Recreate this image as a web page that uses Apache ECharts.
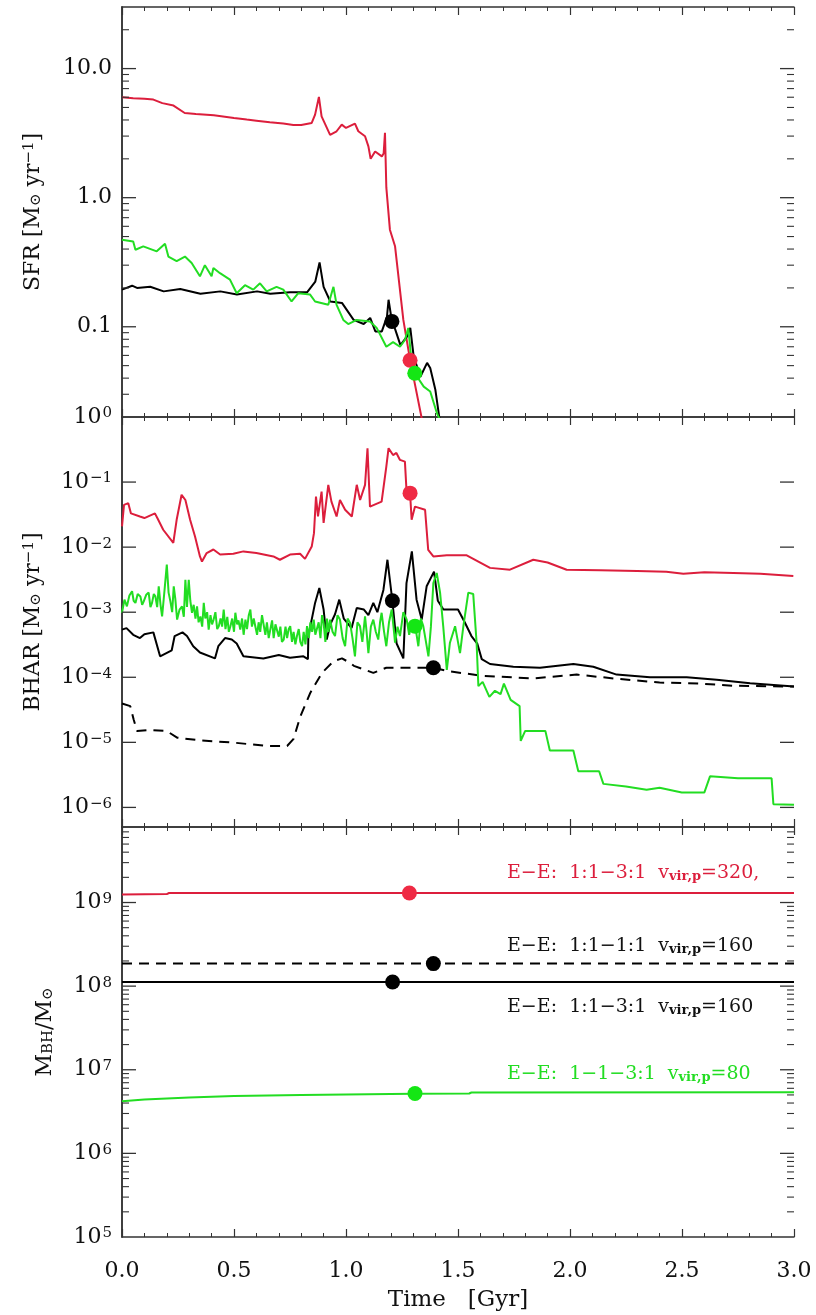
<!DOCTYPE html>
<html>
<head>
<meta charset="utf-8">
<script src="https://cdn.jsdelivr.net/npm/echarts@6/dist/echarts.min.js"></script>
<style>
html,body{margin:0;padding:0;background:#fff;}
#chart{width:816px;height:1315px;}
</style>
</head>
<body>
<div id="chart"></div>
<script>
// ---------------- DATA ----------------
// Panel 1: star formation rate [Msun/yr] vs time [Gyr]
const sfrRedT = [0, 0.05, 0.1, 0.14, 0.18, 0.23, 0.28, 0.33, 0.41, 0.5, 0.557, 0.6, 0.66, 0.72, 0.765, 0.8, 0.847, 0.862, 0.879, 0.891, 0.929, 0.958, 0.981, 1.0, 1.04, 1.055, 1.085, 1.10, 1.11, 1.13, 1.16, 1.168, 1.174, 1.18, 1.196, 1.219, 1.256, 1.286, 1.345];
const sfrRedV = [6.0, 5.9, 5.85, 5.75, 5.4, 5.17, 4.53, 4.45, 4.35, 4.15, 4.03, 3.95, 3.84, 3.75, 3.66, 3.65, 3.79, 4.4, 6.03, 4.26, 3.07, 3.27, 3.68, 3.47, 3.75, 3.27, 2.99, 2.5, 2.0, 2.28, 2.09, 2.2, 3.18, 1.2, 0.565, 0.42, 0.113, 0.0554, 0.017];

const sfrBlackT = [0, 0.045, 0.067, 0.126, 0.186, 0.26, 0.35, 0.439, 0.513, 0.603, 0.662, 0.75, 0.826, 0.863, 0.882, 0.9, 0.93, 0.982, 1.034, 1.079, 1.108, 1.131, 1.16, 1.183, 1.19, 1.205, 1.22, 1.243, 1.272, 1.287, 1.302, 1.332, 1.362, 1.376, 1.399, 1.42];
const sfrBlackV = [0.194, 0.208, 0.200, 0.204, 0.188, 0.196, 0.18, 0.188, 0.178, 0.188, 0.18, 0.185, 0.185, 0.224, 0.315, 0.204, 0.157, 0.153, 0.113, 0.105, 0.117, 0.092, 0.092, 0.12, 0.162, 0.11, 0.095, 0.072, 0.084, 0.098, 0.059, 0.041, 0.0525, 0.048, 0.0325, 0.018];

const sfrGreenT = [0, 0.05, 0.06, 0.095, 0.155, 0.192, 0.207, 0.244, 0.281, 0.311, 0.348, 0.37, 0.4, 0.408, 0.4375, 0.482, 0.512, 0.549, 0.586, 0.616, 0.646, 0.69, 0.72, 0.757, 0.787, 0.839, 0.862, 0.921, 0.944, 0.958, 0.988, 1.01, 1.048, 1.107, 1.137, 1.18, 1.21, 1.241, 1.263, 1.278, 1.29, 1.307, 1.347, 1.376, 1.406, 1.425];
const sfrGreenV = [0.472, 0.458, 0.395, 0.42, 0.384, 0.44, 0.35, 0.323, 0.35, 0.312, 0.246, 0.30, 0.246, 0.285, 0.26, 0.232, 0.182, 0.21, 0.194, 0.217, 0.188, 0.204, 0.194, 0.157, 0.182, 0.178, 0.157, 0.148, 0.204, 0.148, 0.113, 0.105, 0.113, 0.11, 0.098, 0.070, 0.076, 0.070, 0.079, 0.098, 0.06, 0.0437, 0.0344, 0.0315, 0.0214, 0.018];

// Panel 2: black hole accretion rate [Msun/yr]
const bharRedT = [0, 0.009, 0.028, 0.04, 0.08, 0.1, 0.147, 0.16, 0.184, 0.229, 0.244, 0.266, 0.283, 0.304, 0.326, 0.348, 0.357, 0.378, 0.408, 0.438, 0.497, 0.542, 0.6, 0.676, 0.705, 0.75, 0.795, 0.817, 0.847, 0.857, 0.866, 0.875, 0.891, 0.9, 0.921, 0.935, 0.958, 0.973, 0.996, 1.026, 1.048, 1.063, 1.085, 1.096, 1.107, 1.159, 1.18, 1.19, 1.21, 1.225, 1.241, 1.263, 1.27, 1.286, 1.293, 1.308, 1.353, 1.367, 1.39, 1.45, 1.539, 1.643, 1.732, 1.836, 1.9, 1.985, 2.134, 2.3, 2.43, 2.506, 2.6, 2.73, 2.85, 2.997];
const bharRedV = [0.0208, 0.0447, 0.0474, 0.033, 0.0295, 0.028, 0.033, 0.027, 0.0185, 0.0116, 0.0263, 0.0637, 0.053, 0.0263, 0.0146, 0.0072, 0.006, 0.0081, 0.0092, 0.0077, 0.0079, 0.0086, 0.0081, 0.0072, 0.0064, 0.0077, 0.0079, 0.0066, 0.0102, 0.0164, 0.06, 0.0296, 0.0714, 0.0235, 0.0907, 0.05, 0.0296, 0.053, 0.0375, 0.0296, 0.0907, 0.053, 0.0907, 0.331, 0.042, 0.05, 0.173, 0.331, 0.26, 0.28, 0.219, 0.206, 0.0758, 0.0676, 0.0263, 0.042, 0.0375, 0.0091, 0.0072, 0.0075, 0.0075, 0.0048, 0.0045, 0.0064, 0.0058, 0.0045, 0.0044, 0.0043, 0.0042, 0.0039, 0.0041, 0.004, 0.0039, 0.0036];

const bharBlackT = [0, 0.02, 0.05, 0.08, 0.1, 0.14, 0.17, 0.222, 0.235, 0.27, 0.29, 0.318, 0.348, 0.415, 0.43, 0.46, 0.49, 0.512, 0.542, 0.631, 0.7, 0.75, 0.81, 0.83, 0.832, 0.862, 0.881, 0.9, 0.914, 0.93, 0.951, 0.97, 0.99, 1.025, 1.048, 1.08, 1.1, 1.122, 1.14, 1.167, 1.185, 1.207, 1.226, 1.256, 1.27, 1.294, 1.315, 1.338, 1.36, 1.393, 1.41, 1.435, 1.5, 1.53, 1.56, 1.586, 1.606, 1.643, 1.747, 1.866, 2.015, 2.104, 2.208, 2.357, 2.521, 2.655, 2.804, 3.0];
const bharBlackV = [5.4e-4, 5.7e-4, 4.5e-4, 4.0e-4, 4.6e-4, 4.9e-4, 2.1e-4, 2.6e-4, 4.3e-4, 4.9e-4, 4.3e-4, 3.0e-4, 2.4e-4, 1.95e-4, 3.0e-4, 4.0e-4, 3.8e-4, 3.3e-4, 2.1e-4, 1.95e-4, 2.2e-4, 2.0e-4, 2.1e-4, 1.9e-4, 4.3e-4, 1.39e-3, 2.36e-3, 1.1e-3, 3.8e-4, 6.5e-4, 9.3e-4, 1.56e-3, 8e-4, 5.7e-4, 1.16e-3, 1.1e-3, 9e-4, 1.39e-3, 1.0e-3, 2.2e-3, 6.4e-3, 1.5e-3, 3.3e-4, 1.95e-4, 2.8e-3, 8.6e-3, 1.56e-3, 7.7e-4, 2.5e-3, 4.2e-3, 1.5e-3, 1.1e-3, 1.1e-3, 7e-4, 4.3e-4, 3.3e-4, 1.9e-4, 1.6e-4, 1.45e-4, 1.4e-4, 1.6e-4, 1.45e-4, 1.1e-4, 1.0e-4, 1.0e-4, 9.2e-5, 8.1e-5, 7.2e-5];

const bharDashT = [0, 0.037, 0.052, 0.067, 0.126, 0.2, 0.246, 0.35, 0.499, 0.647, 0.737, 0.766, 0.796, 0.841, 0.893, 0.945, 0.982, 1.019, 1.035, 1.122, 1.18, 1.3, 1.39, 1.464, 1.613, 1.836, 2.03, 2.208, 2.4, 2.58, 2.73, 3.0];
const bharDashV = [3.96e-5, 3.6e-5, 2.25e-5, 1.49e-5, 1.55e-5, 1.49e-5, 1.18e-5, 1.07e-5, 9.9e-6, 8.8e-6, 8.8e-6, 1.13e-5, 2.5e-5, 5.8e-5, 1.17e-4, 1.77e-4, 1.95e-4, 1.66e-4, 1.5e-4, 1.17e-4, 1.4e-4, 1.4e-4, 1.4e-4, 1.23e-4, 1.05e-4, 9.6e-5, 1.1e-4, 9.5e-5, 8.3e-5, 8.0e-5, 7.4e-5, 7.2e-5];

const bharGreenT = [0, 0.011, 0.022, 0.033, 0.045, 0.052, 0.06, 0.07, 0.082, 0.09, 0.097, 0.108, 0.119, 0.127, 0.134, 0.142, 0.149, 0.157, 0.164, 0.172, 0.179, 0.19, 0.2, 0.208, 0.216, 0.224, 0.231, 0.238, 0.246, 0.257, 0.268, 0.276, 0.283, 0.29, 0.298, 0.305,
  0.3125, 0.32, 0.328, 0.335, 0.342, 0.35, 0.358, 0.365, 0.372, 0.38, 0.387, 0.395, 0.402, 0.409, 0.417, 0.425, 0.432, 0.44, 0.447, 0.454, 0.462, 0.47, 0.477, 0.484, 0.492, 0.5, 0.506, 0.514, 0.52, 0.528, 0.536, 0.543, 0.551, 0.558, 0.566, 0.573, 0.58, 0.588, 0.595, 0.603, 0.61, 0.617, 0.625, 0.632, 0.64, 0.647, 0.655, 0.662, 0.67, 0.677, 0.685, 0.692, 0.7, 0.707, 0.714, 0.722, 0.73, 0.737, 0.744, 0.751, 0.759, 0.766, 0.774, 0.781, 0.789, 0.796, 0.804, 0.811, 0.819, 0.826, 0.834, 0.841, 0.849, 0.856, 0.863, 0.871, 0.878, 0.886, 0.893, 0.9, 0.908, 0.915, 0.922,
  0.929, 0.94, 0.951, 0.962, 0.973, 0.985, 0.996, 1.007, 1.018, 1.029, 1.04, 1.051, 1.0625, 1.073, 1.085, 1.092, 1.1, 1.111, 1.122, 1.133, 1.144, 1.152, 1.159, 1.17, 1.18, 1.192, 1.204, 1.212, 1.219, 1.23, 1.241, 1.256, 1.271, 1.282, 1.293, 1.308, 1.323, 1.334, 1.345, 1.357, 1.368, 1.379,
  1.39, 1.405, 1.42, 1.434, 1.45, 1.464, 1.487, 1.509, 1.524, 1.546, 1.568, 1.583, 1.591, 1.61, 1.64, 1.665, 1.69, 1.705, 1.735, 1.775, 1.78, 1.8, 1.89, 1.91, 1.97, 2.015, 2.037, 2.13, 2.149, 2.25, 2.342, 2.4, 2.499, 2.6, 2.625, 2.75, 2.9, 2.908, 3.0];
const bharGreenV = [9.8e-4, 1.56e-3, 1.23e-3, 1.8e-3, 2.1e-3, 1.5e-3, 1.39e-3, 1.9e-3, 1.75e-3, 1.3e-3, 1.47e-3, 1.85e-3, 2.0e-3, 1.2e-3, 1.39e-3, 1.9e-3, 1.75e-3, 1.2e-3, 2.5e-3, 1.3e-3, 8.6e-4, 2.2e-3, 5.4e-3, 2.0e-3, 1.47e-3, 1.0e-3, 2.5e-3, 1.6e-3, 7.7e-4, 1.1e-3, 1.23e-3, 8.5e-4, 3.15e-3, 1.2e-3, 3.15e-3, 1.5e-3,
  9.8e-4, 1.3e-3, 8e-4, 1.23e-3, 7e-4, 8.6e-4, 6e-4, 1.39e-3, 8e-4, 1.0e-3, 5.4e-4, 9e-4, 6.5e-4, 7.7e-4, 1.0e-3, 5.5e-4, 6.1e-4, 8e-4, 6e-4, 1.1e-3, 5.5e-4, 8.5e-4, 5e-4, 6.1e-4, 8.0e-4, 5e-4, 9.8e-4, 6.5e-4, 7.5e-4, 5.4e-4, 8e-4, 4.5e-4, 7.7e-4, 5.5e-4, 9e-4, 1.1e-3, 6e-4, 8e-4, 6.1e-4, 4.5e-4, 7e-4, 5e-4, 9e-4, 8.6e-4, 4.5e-4, 7e-4, 4e-4, 5.4e-4, 7.5e-4, 4e-4, 6.5e-4, 6.9e-4, 4.2e-4, 6e-4, 3.5e-4, 3.8e-4, 6e-4, 4e-4, 5.5e-4, 6.1e-4, 3.5e-4, 5e-4, 3.2e-4, 4.3e-4, 5.5e-4, 3.5e-4, 3.0e-4, 5e-4, 3.2e-4, 6.1e-4, 4e-4, 7e-4, 5e-4, 7.7e-4, 4.5e-4, 4.3e-4, 7e-4, 4e-4, 9e-4, 6.9e-4, 3.5e-4, 8e-4, 5e-4,
  7.7e-4, 5e-4, 4.3e-4, 9e-4, 7.7e-4, 4e-4, 3.0e-4, 8e-4, 6.9e-4, 4e-4, 2.1e-4, 7e-4, 6.1e-4, 3.5e-4, 8.6e-4, 5e-4, 2.35e-4, 6e-4, 7.7e-4, 5e-4, 3.8e-4, 7e-4, 9.8e-4, 5e-4, 3.0e-4, 7e-4, 1.1e-3, 6e-4, 3.4e-4, 6e-4, 4.3e-4, 1.0e-3, 7.7e-4, 4.5e-4, 6.9e-4, 6.5e-4, 3.0e-4, 8e-4, 6.1e-4, 3.5e-4, 2.1e-4, 6e-4,
  2.8e-3, 4.0e-3, 2.0e-3, 6.1e-4, 1.3e-4, 3.4e-4, 6.1e-4, 2.35e-4, 6.1e-4, 2.0e-3, 1.9e-3, 3.4e-4, 7.3e-5, 8.5e-5, 5.0e-5, 6.2e-5, 5.5e-5, 8.0e-5, 4.5e-5, 3.6e-5, 1.05e-5, 1.5e-5, 1.5e-5, 7.5e-6, 7.5e-6, 7.5e-6, 3.6e-6, 3.6e-6, 2.3e-6, 2.1e-6, 1.87e-6, 2.0e-6, 1.7e-6, 1.7e-6, 3.0e-6, 2.8e-6, 2.8e-6, 1.12e-6, 1.1e-6];

// Panel 3: black hole mass [Msun]
const mbhRedT = [0, 0.2, 0.21, 3.0];
const mbhRedV = [1.25e9, 1.26e9, 1.3e9, 1.3e9];
const mbhDashT = [0, 3.0];
const mbhDashV = [1.86e8, 1.86e8];
const mbhBlackT = [0, 3.0];
const mbhBlackV = [1.12e8, 1.12e8];
const mbhGreenT = [0, 0.1, 0.3, 0.5, 0.8, 1.0, 1.3, 1.55, 1.56, 3.0];
const mbhGreenV = [4.2e6, 4.4e6, 4.65e6, 4.85e6, 5.0e6, 5.05e6, 5.15e6, 5.2e6, 5.35e6, 5.4e6];

// Merger-time markers [time, value]
const dotSfr = { black: [1.205, 0.11], red: [1.286, 0.055], green: [1.307, 0.0437] };
const dotBhar = { red: [1.286, 0.0676], black: [1.207, 1.5e-3], green: [1.308, 6.1e-4], dash: [1.39, 1.4e-4] };
const dotMbh = { red: [1.283, 1.3e9], black: [1.208, 1.12e8], dash: [1.39, 1.86e8], green: [1.308, 5.2e6] };

// Axis ranges and tick labels
const timeRange = [0, 3];
const sfrRange = [0.02, 30];
const bharRange = [5e-7, 1];
const mbhRange = [1e5, 8e9];
const sfrLabels = [0.1, 1, 10];
const bharLabels = [1e-6, 1e-5, 1e-4, 1e-3, 1e-2, 1e-1, 1];
const mbhLabels = [1e5, 1e6, 1e7, 1e8, 1e9];

const legendTexts = [
  { key: 'red', sub: 'vir,p', pre: 'E−E:  1:1−3:1  v', post: '=320,' },
  { key: 'black', sub: 'vir,p', pre: 'E−E:  1:1−1:1  v', post: '=160' },
  { key: 'black', sub: 'vir,p', pre: 'E−E:  1:1−3:1  v', post: '=160' },
  { key: 'green', sub: 'vir,p', pre: 'E−E:  1−1−3:1  v', post: '=80' }
];

// ---------------- STYLE ----------------
const C = { red: '#dc1e3c', redDot: '#ef2a44', black: '#000000', green: '#22dd22', greenDot: '#14e614' };
const FONT = 'DejaVu Serif';
const AX = '#333';

function zip(t, v) { return t.map((x, i) => [x, v[i]]); }
function logTicks(lo, hi, withMinor) {
  const out = [];
  for (let d = Math.floor(Math.log10(lo)) - 1; d <= Math.ceil(Math.log10(hi)); d++) {
    for (let k = 1; k <= 9; k++) {
      if (k > 1 && !withMinor) continue;
      const v = +(k * Math.pow(10, d)).toPrecision(3);
      if (v > lo * 1.001 && v < hi * 0.999) out.push(v);
    }
  }
  return out;
}
function supStr(v) {
  const e = Math.round(Math.log10(v));
  return '{b|10}{s|' + (e < 0 ? '−' + (-e) : e) + '}';
}

const grids = [
  { left: 122, top: 7, width: 672, height: 410 },
  { left: 122, top: 417, width: 672, height: 410 },
  { left: 122, top: 827, width: 672, height: 410 }
];

const xAxes = [];
grids.forEach((g, gi) => {
  ['bottom', 'top'].forEach(pos => {
    const showLab = gi === 2 && pos === 'bottom';
    xAxes.push({
      type: 'value', gridIndex: gi, position: pos, min: timeRange[0], max: timeRange[1], interval: 0.5,
      axisLine: { show: true, onZero: false, lineStyle: { color: AX, width: 1.5 } },
      axisTick: { show: true, inside: true, length: 8, lineStyle: { color: AX, width: 1.2 } },
      minorTick: { show: true, splitNumber: 5, length: 4, lineStyle: { color: AX, width: 1 } },
      splitLine: { show: false }, minorSplitLine: { show: false },
      axisLabel: { show: showLab, margin: 23, fontFamily: FONT, fontSize: 22, color: '#111',
        formatter: v => v.toFixed(1) },
      name: showLab ? 'Time   [Gyr]' : '', nameLocation: 'middle', nameGap: 52,
      nameTextStyle: { fontFamily: FONT, fontSize: 23, color: '#111' }
    });
  });
});

const labRich = {
  b: { fontFamily: FONT, fontSize: 22, color: '#111' },
  s: { fontFamily: FONT, fontSize: 15, color: '#111', verticalAlign: 'top', padding: [0, 0, 6, 1] }
};
const nameRich = {
  n: { fontFamily: FONT, fontSize: 22, color: '#111' },
  sub: { fontFamily: FONT, fontSize: 15, color: '#111', verticalAlign: 'bottom' },
  sup: { fontFamily: FONT, fontSize: 15, color: '#111', verticalAlign: 'top' }
};

const yAxes = [];
function addY(gi, range, labels, fmt, name, nameGap) {
  const base = {
    type: 'log', gridIndex: gi, min: range[0], max: range[1],
    splitLine: { show: false }, minorTick: { show: false }, minorSplitLine: { show: false },
    axisTick: { show: false }
  };
  const idx = yAxes.length;
  yAxes.push(Object.assign({}, base, {
    position: 'left',
    axisLine: { show: true, lineStyle: { color: AX, width: 1.5 } },
    axisLabel: { show: true, margin: 10, customValues: labels, formatter: fmt, rich: labRich },
    name: name, nameLocation: 'middle', nameGap: nameGap, nameRotate: 90,
    nameTextStyle: { rich: nameRich }
  }));
  yAxes.push(Object.assign({}, base, {
    position: 'right',
    axisLine: { show: true, lineStyle: { color: AX, width: 1.5 } },
    axisLabel: { show: false }
  }));
  return idx;
}
const ySfr = addY(0, sfrRange, sfrLabels, v => '{b|' + Number(v).toFixed(1) + '}',
  '{n|SFR [M}{sub|⊙}{n| yr}{sup|−1}{n|]}', 78);
const yBhar = addY(1, bharRange, bharLabels, v => supStr(v),
  '{n|BHAR [M}{sub|⊙}{n| yr}{sup|−1}{n|]}', 78);
const yMbh = addY(2, mbhRange, mbhLabels, v => supStr(v),
  '{n|M}{sub|BH}{n|/M}{sub|⊙}', 66);

const series = [];
// inward log ticks on both sides of a panel, placed through the axis scale
function yTicks(gi, yi, range, withMinor) {
  series.push({
    type: 'custom', xAxisIndex: gi * 2, yAxisIndex: yi, silent: true, animation: false, clip: false, z: 6,
    encode: { x: 0, y: 1 },
    data: logTicks(range[0], range[1], withMinor).map(v => [timeRange[0], v]),
    renderItem: (params, api) => {
      const v = api.value(1);
      const lg = Math.log10(v);
      const len = Math.abs(lg - Math.round(lg)) < 1e-6 ? 14 : 7;
      const pL = api.coord([timeRange[0], v]);
      const pR = api.coord([timeRange[1], v]);
      const st = { stroke: AX, lineWidth: len > 10 ? 1.3 : 1.1 };
      return { type: 'group', children: [
        { type: 'line', shape: { x1: pL[0], y1: pL[1], x2: pL[0] + len, y2: pL[1] }, style: st },
        { type: 'line', shape: { x1: pR[0], y1: pR[1], x2: pR[0] - len, y2: pR[1] }, style: st }
      ] };
    }
  });
}
function line(gi, yi, t, v, color, dashed) {
  series.push({
    type: 'line', xAxisIndex: gi * 2, yAxisIndex: yi, data: zip(t, v),
    showSymbol: false, symbol: 'none', clip: true, silent: true, animation: false,
    lineStyle: { color: color, width: 2, type: dashed ? [10, 7] : 'solid' }, z: 3
  });
}
function dot(gi, yi, p, color) {
  series.push({
    type: 'scatter', xAxisIndex: gi * 2, yAxisIndex: yi, data: [p],
    symbol: 'circle', symbolSize: 15, itemStyle: { color: color, opacity: 1 }, z: 5, animation: false, silent: true
  });
}
yTicks(0, ySfr, sfrRange, true);
yTicks(1, yBhar, bharRange, false);
yTicks(2, yMbh, mbhRange, true);
// Panel 1
line(0, ySfr, sfrRedT, sfrRedV, C.red);
line(0, ySfr, sfrBlackT, sfrBlackV, C.black);
line(0, ySfr, sfrGreenT, sfrGreenV, C.green);
dot(0, ySfr, dotSfr.black, C.black);
dot(0, ySfr, dotSfr.red, C.redDot);
dot(0, ySfr, dotSfr.green, C.greenDot);
// Panel 2
line(1, yBhar, bharRedT, bharRedV, C.red);
line(1, yBhar, bharDashT, bharDashV, C.black, true);
line(1, yBhar, bharBlackT, bharBlackV, C.black);
line(1, yBhar, bharGreenT, bharGreenV, C.green);
dot(1, yBhar, dotBhar.red, C.redDot);
dot(1, yBhar, dotBhar.black, C.black);
dot(1, yBhar, dotBhar.green, C.greenDot);
dot(1, yBhar, dotBhar.dash, C.black);
// Panel 3
line(2, yMbh, mbhRedT, mbhRedV, C.red);
line(2, yMbh, mbhDashT, mbhDashV, C.black, true);
line(2, yMbh, mbhBlackT, mbhBlackV, C.black);
line(2, yMbh, mbhGreenT, mbhGreenV, C.green);
dot(2, yMbh, dotMbh.red, C.redDot);
dot(2, yMbh, dotMbh.black, C.black);
dot(2, yMbh, dotMbh.dash, C.black);
dot(2, yMbh, dotMbh.green, C.greenDot);

const legendTops = [859, 932, 993, 1060];
const titles = legendTexts.map((L, i) => {
  const col = L.key === 'red' ? C.red : (L.key === 'green' ? C.green : '#111');
  return {
    left: 502, top: legendTops[i],
    text: '{t|' + L.pre + '}{s|' + L.sub + '}{t|' + L.post + '}',
    textStyle: { fontWeight: 'normal', rich: {
      t: { fontFamily: FONT, fontSize: 19, fontWeight: 'normal', color: col },
      s: { fontFamily: FONT, fontSize: 13, fontWeight: 'bold', color: col, verticalAlign: 'bottom' }
    } }
  };
});

const chart = echarts.init(document.getElementById('chart'), null, { renderer: 'canvas' });
chart.setOption({
  backgroundColor: '#fff',
  animation: false,
  title: titles,
  grid: grids,
  xAxis: xAxes,
  yAxis: yAxes,
  series: series
});
</script>
</body>
</html>
